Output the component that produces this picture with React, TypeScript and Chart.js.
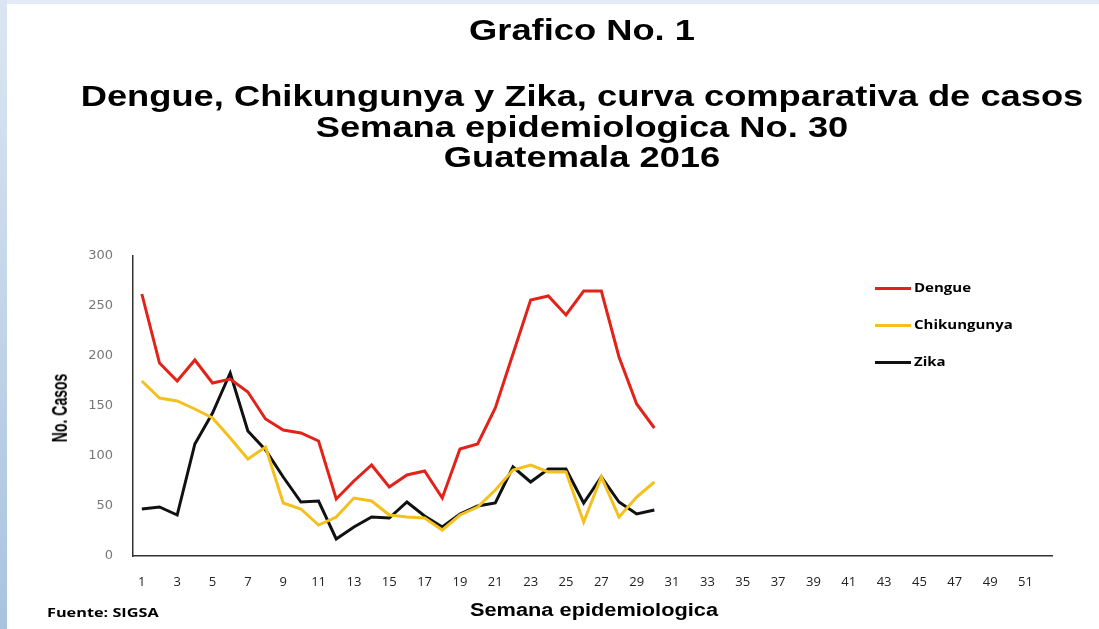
import React, { useEffect, useRef } from "react";
import { Chart, registerables } from "chart.js";

Chart.register(...registerables);

const weeks = [
  "1", "2", "3", "4", "5", "6", "7", "8", "9", "10", "11", "12", "13", "14", "15", "16", "17", "18",
  "19", "20", "21", "22", "23", "24", "25", "26", "27", "28", "29", "30", "31", "32", "33", "34", "35",
  "36", "37", "38", "39", "40", "41", "42", "43", "44", "45", "46", "47", "48", "49", "50", "51", "52",
];

const dengue = [262, 193, 175, 196, 173, 177, 164, 137, 126, 123, 115, 57, 75, 91, 69, 81, 85, 58, 107, 112, 148, 202, 256, 260, 241, 265, 265, 199, 152, 128];
const chikungunya = [175, 158, 155, 147, 138, 118, 97, 109, 53, 47, 31, 39, 58, 55, 41, 39, 38, 26, 41, 49, 66, 86, 91, 84, 84, 34, 79, 39, 59, 74];
const zika = [47, 49, 41, 112, 143, 183, 125, 106, 79, 54, 55, 17, 29, 39, 38, 54, 40, 29, 42, 50, 53, 89, 74, 87, 87, 53, 79, 54, 42, 46];

const yTicks = [0, 50, 100, 150, 200, 250, 300];

const seriesNames = ["Dengue", "Chikungunya", "Zika"];
const seriesColors = ["#e2231a", "#f4c01e", "#111111"];

const titleLines = [
  "Grafico No. 1",
  "Dengue, Chikungunya y Zika, curva comparativa de casos",
  "Semana epidemiologica No. 30",
  "Guatemala 2016",
];

export default function App() {
  const ref = useRef<HTMLCanvasElement | null>(null);

  useEffect(() => {
    if (!ref.current) return;
    const chart = new Chart(ref.current, {
      type: "line",
      data: {
        labels: weeks,
        datasets: [dengue, chikungunya, zika].map((d, i) => ({
          label: seriesNames[i],
          data: d,
          borderColor: seriesColors[i],
          backgroundColor: seriesColors[i],
          borderWidth: 3,
          pointRadius: 0,
          tension: 0,
          fill: false,
        })),
      },
      options: {
        responsive: true,
        maintainAspectRatio: false,
        animation: false,
        layout: { padding: { left: 0, right: 47, top: 256, bottom: 0 } },
        plugins: {
          legend: { display: false },
          title: { display: false },
          tooltip: { enabled: false },
        },
        scales: {
          x: {
            type: "category",
            offset: true,
            grid: { display: false, drawTicks: false },
            border: { display: true, color: "#333", width: 1.5 },
            ticks: {
              autoSkip: false,
              maxRotation: 0,
              padding: 18,
              color: "#222",
              font: { family: "'Open Sans', sans-serif", size: 13 },
              callback: (_v: any, i: number) => (i % 2 === 0 ? weeks[i] : ""),
            },
            afterFit: (s: any) => {
              s.height = 73;
            },
          },
          y: {
            min: 0,
            max: 300,
            afterBuildTicks: (s: any) => {
              s.ticks = yTicks.map((v) => ({ value: v }));
            },
            grid: { display: false, drawTicks: false },
            border: { display: true, color: "#333", width: 1.5 },
            ticks: {
              padding: 20,
              color: "#777",
              font: { family: "'DejaVu Sans', sans-serif", size: 13 },
            },
            afterFit: (s: any) => {
              s.width = 133;
            },
          },
        },
      },
    });
    return () => chart.destroy();
  }, []);

  const titleY = [30, 96, 127, 157];
  const legendY = [288, 325, 362];

  return (
    <div style={{ position: "fixed", left: 0, top: 0, width: 1099, height: 629, background: "#fff", overflow: "hidden" }}>
      <div style={{ position: "absolute", left: 0, top: 0, width: 1099, height: 4, background: "#e3ecf6" }} />
      <div style={{ position: "absolute", left: 0, top: 0, width: 7, height: 629, background: "linear-gradient(#dbe6f2, #a9c3df)" }} />
      <div style={{ position: "absolute", left: 0, top: 0, width: 1099, height: 629 }}>
        <canvas ref={ref} />
      </div>
      {titleLines.map((t, i) => (
        <div
          key={i}
          style={{
            position: "absolute",
            left: 582,
            top: titleY[i],
            transform: "translate(-50%, -50%) scaleX(1.21)",
            whiteSpace: "nowrap",
            font: "bold 30px 'Liberation Sans', Arial, sans-serif",
            color: "#000",
            lineHeight: "32px",
          }}
        >
          {t}
        </div>
      ))}
      <div
        style={{
          position: "absolute",
          left: 60,
          top: 408,
          transform: "translate(-50%, -50%) rotate(-90deg) scale(0.78, 1.21)",
          whiteSpace: "nowrap",
          font: "bold 18px 'Liberation Sans', Arial, sans-serif",
          color: "#000",
          lineHeight: "20px",
        }}
      >
        No. Casos
      </div>
      <div
        style={{
          position: "absolute",
          left: 594,
          top: 610,
          transform: "translate(-50%, -50%) scaleX(1.21)",
          whiteSpace: "nowrap",
          font: "bold 18px 'Liberation Sans', Arial, sans-serif",
          color: "#000",
          lineHeight: "20px",
        }}
      >
        Semana epidemiologica
      </div>
      <div
        style={{
          position: "absolute",
          left: 47,
          top: 612,
          transform: "translateY(-50%) scaleX(1.25)",
          transformOrigin: "left center",
          whiteSpace: "nowrap",
          font: "bold 13px 'Open Sans', sans-serif",
          color: "#000",
          lineHeight: "16px",
        }}
      >
        Fuente: SIGSA
      </div>
      {seriesNames.map((n, i) => (
        <React.Fragment key={n}>
          <div
            style={{
              position: "absolute",
              left: 875,
              top: legendY[i] - 1.5,
              width: 36,
              height: 3,
              background: seriesColors[i],
            }}
          />
          <div
            style={{
              position: "absolute",
              left: 914,
              top: legendY[i],
              transform: "translateY(-50%) scaleX(1.25)",
              transformOrigin: "left center",
              whiteSpace: "nowrap",
              font: "bold 12px 'Open Sans', sans-serif",
              color: "#000",
              lineHeight: "14px",
            }}
          >
            {n}
          </div>
        </React.Fragment>
      ))}
    </div>
  );
}
